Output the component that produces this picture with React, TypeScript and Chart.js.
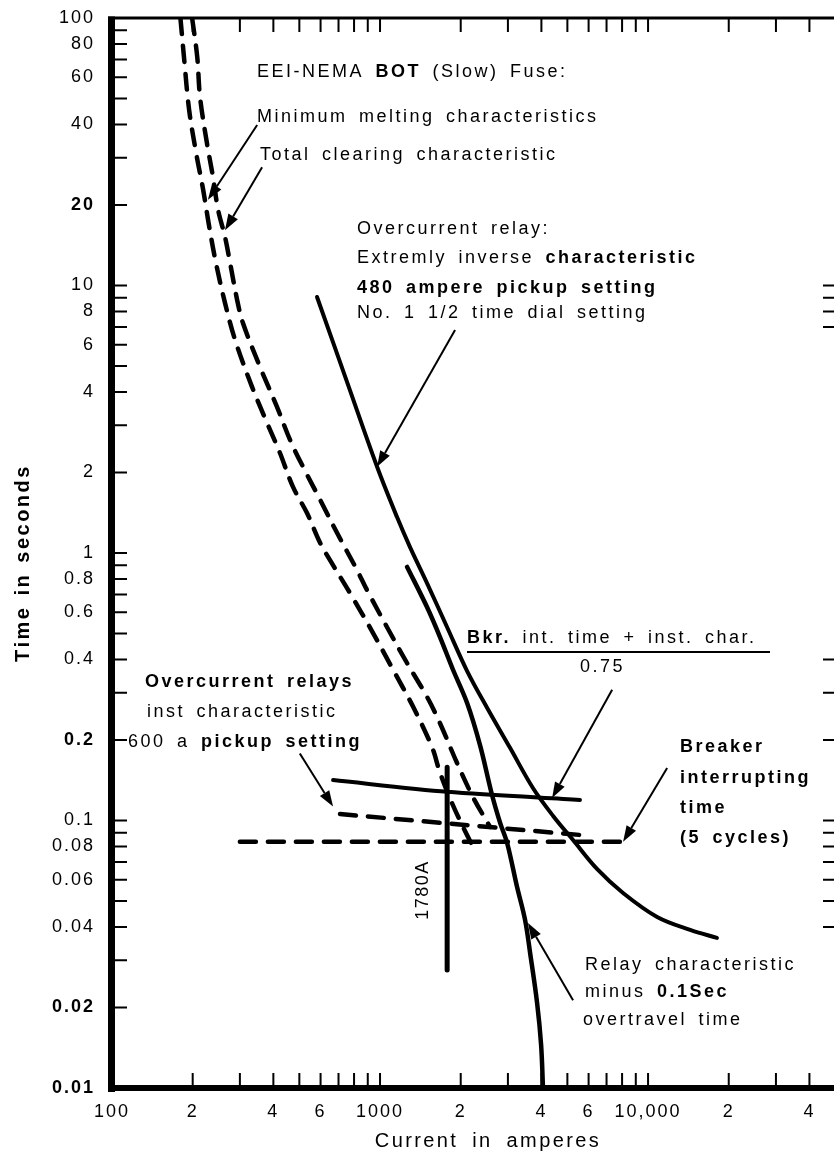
import { useEffect, useRef } from "react";
import { Chart, registerables } from "chart.js";

Chart.register(...registerables);

const FONT = '"Liberation Sans", Arial, Helvetica, sans-serif';

// ---- axes ----
const X_MIN = 100;
const X_MAX = 49400;
const Y_MIN = 0.01;
const Y_MAX = 100;

const X_TICKS = [100, 200, 300, 400, 500, 600, 700, 800, 900, 1000, 2000, 3000, 4000, 5000, 6000, 7000, 8000, 9000, 10000, 20000, 30000, 40000];
const X_LABEL_VALUES = [100, 200, 400, 600, 1000, 2000, 4000, 6000, 10000, 20000, 40000];
const X_LABEL_TEXTS = ["100", "2", "4", "6", "1000", "2", "4", "6", "10,000", "2", "4"];

const Y_TICKS = [0.01, 0.02, 0.03, 0.04, 0.05, 0.06, 0.07, 0.08, 0.09, 0.1, 0.2, 0.3, 0.4, 0.5, 0.6, 0.7, 0.8, 0.9, 1, 2, 3, 4, 5, 6, 7, 8, 9, 10, 20, 30, 40, 50, 60, 70, 80, 90, 100];
const Y_LABEL_VALUES = [0.01, 0.02, 0.04, 0.06, 0.08, 0.1, 0.2, 0.4, 0.6, 0.8, 1, 2, 4, 6, 8, 10, 20, 40, 60, 80, 100];
const Y_LABEL_TEXTS = ["0.01", "0.02", "0.04", "0.06", "0.08", "0.1", "0.2", "0.4", "0.6", "0.8", "1", "2", "4", "6", "8", "10", "20", "40", "60", "80", "100"];
const Y_BOLD_LABELS = [20, 0.2, 0.02, 0.01];
const RIGHT_EDGE_TICKS = [10, 9, 8, 7, 0.4, 0.3, 0.2, 0.1, 0.09, 0.08, 0.07, 0.06, 0.05, 0.04];

// ---- series (current A, time s) ----
const MIN_MELT_I = [180, 186, 194, 206, 219, 230, 244, 264, 288, 333, 379, 423, 473, 534, 598, 650, 773, 942, 1119, 1329, 1563, 1674, 1857, 2041, 2225];
const MIN_MELT_T = [100, 69.7, 45.3, 31.3, 22.7, 16.8, 12.2, 8.61, 6.25, 4.18, 3.06, 2.37, 1.77, 1.41, 1.09, 0.942, 0.708, 0.502, 0.366, 0.266, 0.188, 0.151, 0.116, 0.0946, 0.0796];

const TOTAL_CLEAR_I = [199, 208, 213, 226, 238, 249, 264, 276, 293, 308, 357, 413, 462, 516, 598, 691, 821, 894, 1061, 1261, 1497, 1674, 1938, 2225, 2573];
const TOTAL_CLEAR_T = [100, 71.4, 50.7, 34.1, 25.5, 19.1, 15.2, 12.1, 8.83, 7.24, 4.95, 3.51, 2.64, 2.1, 1.58, 1.19, 0.863, 0.727, 0.529, 0.388, 0.29, 0.231, 0.164, 0.122, 0.0946];

const RELAY_I = [582, 753, 975, 1156, 1295, 1497, 1778, 2113, 2508, 3055, 3724, 4424, 5250, 6449, 8066, 10810, 14360, 18070];
const RELAY_T = [9.06, 4.36, 2.1, 1.365, 1.05, 0.772, 0.529, 0.362, 0.264, 0.187, 0.132, 0.104, 0.0845, 0.0659, 0.0536, 0.0436, 0.039, 0.0364];

const RELAY_MINUS_I = [1262, 1497, 1674, 1872, 2113, 2362, 2618, 2806, 2980, 3246, 3476, 3630, 3855, 3990, 4055];
const RELAY_MINUS_T = [0.887, 0.628, 0.485, 0.366, 0.275, 0.191, 0.1245, 0.098, 0.0824, 0.0564, 0.0425, 0.032, 0.0208, 0.0145, 0.01];

const INST_RELAY_I = [668, 1778, 5570];
const INST_RELAY_T = [0.1416, 0.128, 0.1194];

const INST_600_I = [709, 5570];
const INST_600_T = [0.1057, 0.0883];

const BREAKER_I = [300, 8570];
const BREAKER_T = [0.0833, 0.0833];

const LINE_1780_I = [1780, 1780];
const LINE_1780_T = [0.158, 0.0276];

// annotation arrows (tail -> head), data coordinates
const ARROW_FROM_I = [348, 363, 1905, 7345, 11780, 5250, 502];
const ARROW_FROM_T = [39.8, 27.7, 6.82, 0.308, 0.157, 0.0213, 0.178];
const ARROW_TO_I = [228, 264, 975, 4385, 8070, 3565, 668];
const ARROW_TO_T = [20.9, 16.1, 2.1, 0.1213, 0.0833, 0.0414, 0.1127];

type Seg = [string, boolean];
type Note = { x: number; y: number; segs: Seg[]; size?: number };

const NOTES: Note[] = [
  { x: 257, y: 72, segs: [["EEI-NEMA ", false], ["BOT", true], [" (Slow) Fuse:", false]] },
  { x: 257, y: 117, segs: [["Minimum melting characteristics", false]] },
  { x: 260, y: 155, segs: [["Total clearing characteristic", false]] },
  { x: 357, y: 229, segs: [["Overcurrent relay:", false]] },
  { x: 357, y: 258, segs: [["Extremly inverse ", false], ["characteristic", true]] },
  { x: 357, y: 288, segs: [["480 ampere pickup setting", true]] },
  { x: 357, y: 313, segs: [["No. 1 1/2 time dial setting", false]] },
  { x: 467, y: 638, segs: [["Bkr.", true], [" int. time + inst. char.", false]] },
  { x: 580, y: 667, segs: [["0.75", false]] },
  { x: 145, y: 682, segs: [["Overcurrent relays", true]] },
  { x: 147, y: 712, segs: [["inst characteristic", false]] },
  { x: 128, y: 742, segs: [["600 a ", false], ["pickup setting", true]] },
  { x: 680, y: 747, segs: [["Breaker", true]] },
  { x: 680, y: 778, segs: [["interrupting", true]] },
  { x: 680, y: 808, segs: [["time", true]] },
  { x: 680, y: 838, segs: [["(5 cycles)", true]] },
  { x: 585, y: 965, segs: [["Relay characteristic", false]] },
  { x: 585, y: 992, segs: [["minus ", false], ["0.1Sec", true]] },
  { x: 583, y: 1020, segs: [["overtravel time", false]] },
];

const zip = (xs: number[], ys: number[]) => xs.map((x, i) => ({ x, y: ys[i] }));
const findIdx = (arr: number[], v: number) => arr.findIndex((a) => Math.abs(a - v) <= Math.abs(v) * 1e-6);

function drawSegs(ctx: CanvasRenderingContext2D, x: number, y: number, segs: Seg[], size = 18) {
  let cx = x;
  ctx.textAlign = "left";
  ctx.textBaseline = "middle";
  for (const [text, bold] of segs) {
    ctx.font = `${bold ? "bold " : ""}${size}px ${FONT}`;
    (ctx as any).letterSpacing = "2.5px";
    (ctx as any).wordSpacing = "4px";
    ctx.fillText(text, cx, y);
    cx += ctx.measureText(text).width;
  }
}

function drawArrow(ctx: CanvasRenderingContext2D, x1: number, y1: number, x2: number, y2: number) {
  const ang = Math.atan2(y2 - y1, x2 - x1);
  const len = 16;
  const hw = 5.5;
  const bx = x2 - len * Math.cos(ang);
  const by = y2 - len * Math.sin(ang);
  ctx.lineWidth = 2;
  ctx.beginPath();
  ctx.moveTo(x1, y1);
  ctx.lineTo(bx, by);
  ctx.stroke();
  ctx.beginPath();
  ctx.moveTo(x2, y2);
  ctx.lineTo(bx + hw * Math.sin(ang), by - hw * Math.cos(ang));
  ctx.lineTo(bx - hw * Math.sin(ang), by + hw * Math.cos(ang));
  ctx.closePath();
  ctx.fill();
}

const decorPlugin = {
  id: "decor",
  beforeDraw(chart: any) {
    (chart.ctx as any).letterSpacing = "2px";
  },
  afterDraw(chart: any) {
    const { ctx, chartArea: ca } = chart;
    const xs = chart.scales.x;
    const ys = chart.scales.y;
    ctx.save();
    ctx.strokeStyle = "#000";
    ctx.fillStyle = "#000";
    ctx.lineCap = "butt";

    // frame
    ctx.lineWidth = 7;
    ctx.beginPath();
    ctx.moveTo(ca.left - 0.5, ca.top - 1.5);
    ctx.lineTo(ca.left - 0.5, ca.bottom + 4);
    ctx.stroke();
    ctx.lineWidth = 6;
    ctx.beginPath();
    ctx.moveTo(ca.left - 4, ca.bottom);
    ctx.lineTo(ca.right, ca.bottom);
    ctx.stroke();
    ctx.lineWidth = 3;
    ctx.beginPath();
    ctx.moveTo(ca.left - 4, ca.top);
    ctx.lineTo(ca.right, ca.top);
    ctx.stroke();

    // ticks
    ctx.lineWidth = 2;
    ctx.beginPath();
    X_TICKS.forEach((v) => {
      if (v === X_MIN) return;
      const px = xs.getPixelForValue(v);
      ctx.moveTo(px, ca.bottom);
      ctx.lineTo(px, ca.bottom - 15);
      ctx.moveTo(px, ca.top);
      ctx.lineTo(px, ca.top + 14);
    });
    Y_TICKS.forEach((v) => {
      if (v === Y_MIN) return;
      const py = ys.getPixelForValue(v);
      ctx.moveTo(ca.left, py);
      ctx.lineTo(ca.left + 15, py);
    });
    RIGHT_EDGE_TICKS.forEach((v) => {
      const py = ys.getPixelForValue(v);
      ctx.moveTo(ca.right - 11, py);
      ctx.lineTo(ca.right, py);
    });
    ctx.stroke();

    // arrows
    ARROW_FROM_I.forEach((fi, i) => {
      drawArrow(
        ctx,
        xs.getPixelForValue(fi),
        ys.getPixelForValue(ARROW_FROM_T[i]),
        xs.getPixelForValue(ARROW_TO_I[i]),
        ys.getPixelForValue(ARROW_TO_T[i])
      );
    });

    // annotations
    NOTES.forEach((n) => drawSegs(ctx, n.x, n.y, n.segs, n.size));
    ctx.lineWidth = 2;
    ctx.beginPath();
    ctx.moveTo(467, 652);
    ctx.lineTo(770, 652);
    ctx.stroke();

    // 1780A label (rotated)
    ctx.save();
    ctx.translate(423, 890);
    ctx.rotate(-Math.PI / 2);
    ctx.textAlign = "center";
    ctx.textBaseline = "middle";
    ctx.font = `18px ${FONT}`;
    (ctx as any).letterSpacing = "1.5px";
    ctx.fillText("1780A", 0, 0);
    ctx.restore();

    // axis titles
    ctx.save();
    ctx.translate(23, 563);
    ctx.rotate(-Math.PI / 2);
    ctx.textAlign = "center";
    ctx.textBaseline = "middle";
    ctx.font = `bold 20px ${FONT}`;
    (ctx as any).letterSpacing = "2.5px";
    (ctx as any).wordSpacing = "2px";
    ctx.fillText("Time in seconds", 0, 0);
    ctx.restore();

    ctx.textAlign = "center";
    ctx.textBaseline = "middle";
    ctx.font = `20px ${FONT}`;
    (ctx as any).letterSpacing = "2.4px";
    (ctx as any).wordSpacing = "6px";
    ctx.fillText("Current in amperes", 488, 1141);

    ctx.restore();
  },
};

export default function App() {
  const ref = useRef<HTMLCanvasElement | null>(null);

  useEffect(() => {
    if (!ref.current) return;
    const dashed = [16, 12];
    const base = { borderColor: "#000", pointRadius: 0, showLine: true, fill: false, borderCapStyle: "round" as const };
    const chart = new Chart(ref.current, {
      type: "scatter",
      data: {
        datasets: [
          { ...base, label: "Minimum melting", data: zip(MIN_MELT_I, MIN_MELT_T), borderWidth: 4.5, borderDash: dashed, tension: 0.35 },
          { ...base, label: "Total clearing", data: zip(TOTAL_CLEAR_I, TOTAL_CLEAR_T), borderWidth: 4.5, borderDash: dashed, tension: 0.35 },
          { ...base, label: "Overcurrent relay", data: zip(RELAY_I, RELAY_T), borderWidth: 4, tension: 0.35 },
          { ...base, label: "Relay minus 0.1 s", data: zip(RELAY_MINUS_I, RELAY_MINUS_T), borderWidth: 4.5, tension: 0.35 },
          { ...base, label: "Bkr + inst / 0.75", data: zip(INST_RELAY_I, INST_RELAY_T), borderWidth: 4, tension: 0.3 },
          { ...base, label: "Inst 600 A", data: zip(INST_600_I, INST_600_T), borderWidth: 4.5, borderDash: dashed, tension: 0 },
          { ...base, label: "Breaker 5 cycles", data: zip(BREAKER_I, BREAKER_T), borderWidth: 4.5, borderDash: dashed, tension: 0 },
          { ...base, label: "1780 A", data: zip(LINE_1780_I, LINE_1780_T), borderWidth: 5, tension: 0 },
        ],
      },
      options: {
        animation: false,
        responsive: false,
        maintainAspectRatio: false,
        devicePixelRatio: 1,
        layout: { padding: { top: 18, right: 0, left: 0, bottom: 0 } },
        plugins: { legend: { display: false }, tooltip: { enabled: false } },
        scales: {
          x: {
            type: "logarithmic",
            min: X_MIN,
            max: X_MAX,
            grid: { display: false, drawTicks: false },
            border: { display: false },
            afterBuildTicks: (s: any) => {
              s.ticks = X_TICKS.map((value) => ({ value }));
            },
            afterFit: (s: any) => {
              s.height = 69;
              s.paddingLeft = 0;
              s.paddingRight = 0;
              s.paddingTop = 0;
              s.paddingBottom = 0;
            },
            ticks: {
              autoSkip: false,
              maxRotation: 0,
              minRotation: 0,
              padding: 13,
              color: "#000",
              font: { family: FONT, size: 18 },
              callback: (v: any) => {
                const i = findIdx(X_LABEL_VALUES, Number(v));
                return i >= 0 ? X_LABEL_TEXTS[i] : "";
              },
            },
          },
          y: {
            type: "logarithmic",
            min: Y_MIN,
            max: Y_MAX,
            grid: { display: false, drawTicks: false },
            border: { display: false },
            afterBuildTicks: (s: any) => {
              s.ticks = Y_TICKS.map((value) => ({ value }));
            },
            afterFit: (s: any) => {
              s.width = 112;
              s.paddingLeft = 0;
              s.paddingRight = 0;
              s.paddingTop = 0;
              s.paddingBottom = 0;
            },
            ticks: {
              autoSkip: false,
              padding: 17,
              color: "#000",
              font: (c: any) => {
                const v = c.tick ? c.tick.value : 0;
                return { family: FONT, size: 18, weight: findIdx(Y_BOLD_LABELS, v) >= 0 ? "bold" : "normal" };
              },
              callback: (v: any) => {
                const i = findIdx(Y_LABEL_VALUES, Number(v));
                return i >= 0 ? Y_LABEL_TEXTS[i] : "";
              },
            },
          },
        },
      },
      plugins: [decorPlugin],
    } as any);
    return () => chart.destroy();
  }, []);

  return (
    <div style={{ position: "absolute", left: 0, top: 0, width: 834, height: 1157, background: "#fff" }}>
      <canvas ref={ref} width={834} height={1157} style={{ display: "block" }} />
    </div>
  );
}
